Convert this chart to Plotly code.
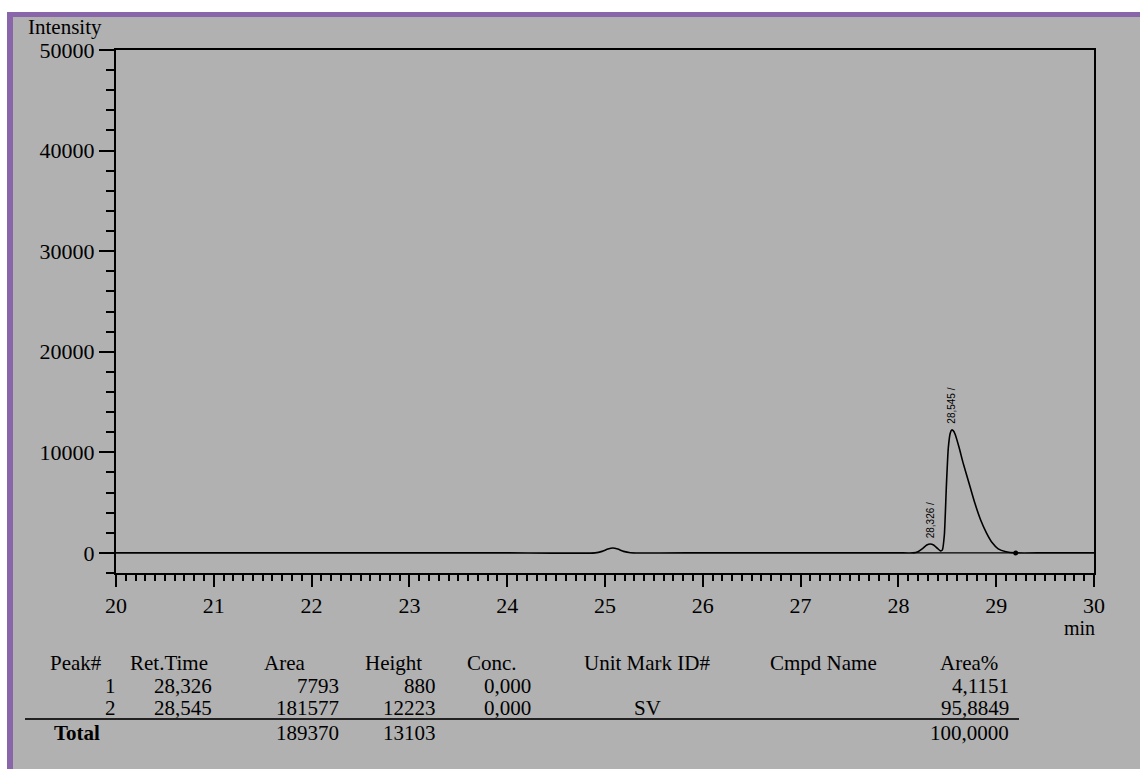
import plotly.graph_objects as go

# ---- chromatogram trace (retention time in min, detector intensity) ----
time_min = [20.0, 21.0, 22.0, 23.0, 24.0, 24.9, 24.97, 25.03, 25.08, 25.13, 25.19, 25.26,
            26.0, 27.0, 28.0, 28.15, 28.2, 28.25, 28.29, 28.326, 28.36, 28.4, 28.43,
            28.45, 28.47, 28.49, 28.51, 28.53, 28.545, 28.56, 28.58, 28.62, 28.66, 28.72,
            28.78, 28.84, 28.9, 28.96, 29.02, 29.1, 29.2, 29.5, 30.0]
intensity = [0, 0, 0, 0, 0, 0, 150, 380, 480, 380, 150, 20,
             0, 0, 0, 0, 120, 450, 780, 880, 780, 450, 200,
             300, 1800, 6500, 10400, 11900, 12223, 12150, 11800, 10500, 9000, 7000,
             5000, 3300, 2000, 1000, 400, 120, 0, 0, 0]

# integration baseline under the two peaks
baseline_t = [28.15, 29.2]
baseline_y = [0, 0]

# ---- peak table ----
peak_no = ["1", "2"]
ret_time = [28.326, 28.545]
peak_area = [7793, 181577]
peak_height = [880, 12223]
conc = [0.000, 0.000]
mark = ["", "SV"]
area_pct = [4.1151, 95.8849]
total_area = 189370
total_height = 13103
total_pct = 100.0

y_ticks = [0, 10000, 20000, 30000, 40000, 50000]
x_ticks = [20, 21, 22, 23, 24, 25, 26, 27, 28, 29, 30]

W, H = 1140, 769
L, R, T, B = 116, 1094, 50, 573  # plot box in pixels

GRAY = "#b1b1b1"
PURPLE = "#8866a9"
SERIF = "Liberation Serif"


def px(x):
    return (x - L) / (R - L)


def py(y):
    return (B - y) / (B - T)


def dec(v, n):
    return f"{v:.{n}f}".replace(".", ",")


fig = go.Figure()
fig.add_trace(go.Scatter(x=time_min, y=intensity, mode="lines",
                         line=dict(color="black", width=1.6, shape="spline", smoothing=0.5),
                         hoverinfo="skip"))
fig.add_trace(go.Scatter(x=baseline_t, y=baseline_y, mode="lines",
                         line=dict(color="black", width=1.2), hoverinfo="skip"))
fig.add_trace(go.Scatter(x=[baseline_t[-1]], y=[baseline_y[-1]], mode="markers",
                         marker=dict(color="black", size=5), hoverinfo="skip"))

ann = []
# retention-time labels above each peak
for rt, h in zip(ret_time, peak_height):
    ann.append(dict(x=rt, y=h, xref="x", yref="y", text=dec(rt, 3) + " /",
                    textangle=-90, showarrow=False, xanchor="center", yanchor="bottom",
                    yshift=4, font=dict(family="Liberation Sans", size=10, color="black")))

ann.append(dict(x=px(26), y=py(27), xref="paper", yref="paper", text="Intensity",
                showarrow=False, xanchor="left", yanchor="middle",
                font=dict(family=SERIF, size=21, color="black")))
ann.append(dict(x=px(1062), y=py(628), xref="paper", yref="paper", text="min",
                showarrow=False, xanchor="left", yanchor="middle",
                font=dict(family=SERIF, size=20, color="black")))


def txt(x, y, s, anchor="left", bold=False):
    ann.append(dict(x=px(x), y=py(y), xref="paper", yref="paper",
                    text=f"<b>{s}</b>" if bold else s, showarrow=False,
                    xanchor=anchor, yanchor="middle",
                    font=dict(family=SERIF, size=21, color="black")))


# header row
hy = 663
txt(48, hy, "Peak#")
txt(128, hy, "Ret.Time")
txt(262, hy, "Area")
txt(363, hy, "Height")
txt(465, hy, "Conc.")
txt(582, hy, "Unit Mark ID#")
txt(768, hy, "Cmpd Name")
txt(938, hy, "Area%")

rows_y = [686, 708]
for i, ry in enumerate(rows_y):
    txt(118, ry, peak_no[i], "right")
    txt(214, ry, dec(ret_time[i], 3), "right")
    txt(341, ry, str(peak_area[i]), "right")
    txt(438, ry, str(peak_height[i]), "right")
    txt(533, ry, dec(conc[i], 3), "right")
    if mark[i]:
        txt(647, ry, mark[i], "center")
    txt(1011, ry, dec(area_pct[i], 4), "right")

ty = 733
txt(52, ty, "Total", bold=True)
txt(341, ty, str(total_area), "right")
txt(438, ty, str(total_height), "right")
txt(1011, ty, dec(total_pct, 4), "right")

shapes = [
    # white margin and purple frame around the panel
    dict(type="rect", xref="paper", yref="paper", x0=px(0), x1=px(W), y0=py(0), y1=py(12),
         fillcolor="white", line=dict(width=0), layer="below"),
    dict(type="rect", xref="paper", yref="paper", x0=px(0), x1=px(7), y0=py(0), y1=py(H),
         fillcolor="white", line=dict(width=0), layer="below"),
    dict(type="rect", xref="paper", yref="paper", x0=px(7), x1=px(W), y0=py(12), y1=py(17),
         fillcolor=PURPLE, line=dict(width=0), layer="below"),
    dict(type="rect", xref="paper", yref="paper", x0=px(7), x1=px(13), y0=py(12), y1=py(H),
         fillcolor=PURPLE, line=dict(width=0), layer="below"),
    # rule above the totals row
    dict(type="line", xref="paper", yref="paper", x0=px(25), x1=px(1019), y0=py(719), y1=py(719),
         line=dict(color="#222222", width=2)),
]

fig.update_layout(
    width=W, height=H,
    margin=dict(l=L, r=W - R, t=T, b=H - B, pad=0),
    paper_bgcolor=GRAY, plot_bgcolor=GRAY,
    showlegend=False,
    annotations=ann, shapes=shapes,
    xaxis=dict(range=[20, 30], tickvals=x_ticks, ticktext=[str(v) for v in x_ticks],
               ticks="outside", ticklen=12, tickwidth=2,
               tickcolor="black", showline=True, linecolor="black", linewidth=2, mirror=True,
               showgrid=False, zeroline=False,
               tickfont=dict(family=SERIF, size=22, color="black"),
               minor=dict(dtick=0.1, ticks="outside", ticklen=6, tickwidth=1.5,
                          tickcolor="black", showgrid=False)),
    yaxis=dict(range=[-2000, 50000], tickvals=y_ticks, ticktext=[str(v) for v in y_ticks],
               ticks="outside", ticklen=15, tickwidth=2,
               tickcolor="black", showline=True, linecolor="black", linewidth=2, mirror=True,
               showgrid=False, zeroline=False, ticklabelstandoff=0,
               tickfont=dict(family=SERIF, size=22, color="black"),
               minor=dict(tickvals=[v for v in range(-2000, 50001, 2000) if v % 10000],
                          ticks="outside", ticklen=8, tickwidth=1.5,
                          tickcolor="black", showgrid=False)),
)

fig.write_html("out.html")
